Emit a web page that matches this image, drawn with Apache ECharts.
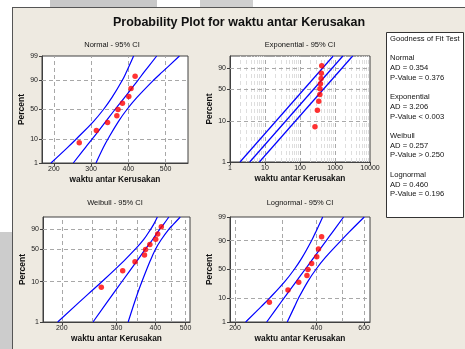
<!DOCTYPE html>
<html><head><meta charset="utf-8">
<script src="https://cdn.jsdelivr.net/npm/echarts@6/dist/echarts.min.js"></script>
<style>html,body{margin:0;padding:0;background:#fff}#c{width:465px;height:349px}</style>
</head><body><div id="c"></div><script>
// ---- data ----
const values = [268, 314, 344, 369, 372, 384, 401, 407, 418];
const plotPercents = [7.4, 18.1, 28.7, 39.4, 50, 60.6, 71.3, 81.9, 92.6];
const bandPercents = [1, 5, 10, 30, 50, 70, 90, 95, 99];
const normalFit   = [252, 285, 303, 339, 364, 390, 426, 443, 476];
const normalLower = [192, 237, 260, 306, 333, 356, 384, 395, 414];
const normalUpper = [313, 333, 345, 373, 396, 423, 468, 492, 537];
const lognormalFit   = [262, 288, 303, 337, 363, 391, 435, 458, 504];
const lognormalLower = [219, 250, 268, 306, 331, 354, 384, 397, 422];
const lognormalUpper = [312, 332, 343, 372, 398, 431, 493, 527, 601];
const weibullFit   = [252, 292, 312, 349, 371, 391, 414, 425, 442];
const weibullLower = [194, 243, 269, 317, 344, 366, 387, 395, 406];
const weibullUpper = [327, 350, 362, 385, 400, 417, 443, 457, 481];
const expPercents = [1, 99];
const expFit   = [3.66, 1676];
const expLower = [1.93, 890];
const expUpper = [6.9, 3200];
const normalTicksX = [200, 300, 400, 500];
const expTicksX = [1, 10, 100, 1000, 10000];
const weibullTicksX = [200, 300, 400, 500];
const lognormalTicksX = [200, 400, 600];
const normalGridX = [200, 300, 400, 500];
const expGridMajorX = [10, 100, 1000];
const expGridMinorX = [2,3,4,5,6,7,8,9,20,30,40,50,60,70,80,90,200,300,400,500,600,700,800,900,2000,3000,4000,5000,6000,7000,8000,9000];
const weibullGridX = [200, 250, 300, 350, 400, 450, 500];
const lognormalGridX = [200, 300, 400, 500, 600];
const percentTicksNormal = [1, 10, 50, 90, 99];
const percentTicksWeibull = [1, 10, 50, 90];
const percentGrid = [10, 50, 90];
const panelTitles = ['Normal - 95% CI', 'Exponential - 95% CI', 'Weibull - 95% CI', 'Lognormal - 95% CI'];
const gofLines = ['Goodness of Fit Test', '', 'Normal', 'AD = 0.354', 'P-Value = 0.376', '',
  'Exponential', 'AD = 3.206', 'P-Value < 0.003', '', 'Weibull', 'AD = 0.257', 'P-Value > 0.250', '',
  'Lognormal', 'AD = 0.460', 'P-Value = 0.196'];

// ---- probability scales ----
function probit(p){
  const a=[-3.969683028665376e+01,2.209460984245205e+02,-2.759285104469687e+02,1.383577518672690e+02,-3.066479806614716e+01,2.506628277459239e+00];
  const b=[-5.447609879822406e+01,1.615858368580409e+02,-1.556989798598866e+02,6.680131188771972e+01,-1.328068155288572e+01];
  const c=[-7.784894002430293e-03,-3.223964580411365e-01,-2.400758277161838e+00,-2.549732539343734e+00,4.374664141464968e+00,2.938163982698783e+00];
  const d=[7.784695709041462e-03,3.224671290700398e-01,2.445134137142996e+00,3.754408661907416e+00];
  const pl=0.02425; let q,r;
  if(p<pl){q=Math.sqrt(-2*Math.log(p));return (((((c[0]*q+c[1])*q+c[2])*q+c[3])*q+c[4])*q+c[5])/((((d[0]*q+d[1])*q+d[2])*q+d[3])*q+1);}
  if(p>1-pl){q=Math.sqrt(-2*Math.log(1-p));return -(((((c[0]*q+c[1])*q+c[2])*q+c[3])*q+c[4])*q+c[5])/((((d[0]*q+d[1])*q+d[2])*q+d[3])*q+1);}
  q=p-0.5;r=q*q;return (((((a[0]*r+a[1])*r+a[2])*r+a[3])*r+a[4])*r+a[5])*q/(((((b[0]*r+b[1])*r+b[2])*r+b[3])*r+b[4])*r+1);
}
function gumbel(p){ return Math.log(-Math.log(1-p)); }
const trans = [probit, gumbel, gumbel, probit];

const FONT = 'Liberation Sans, Arial, sans-serif';
const AX = '#404040';
const BLUE = '#0000ff';

const grids = [
  {left:42, top:56, width:146, height:107},
  {left:230, top:56, width:140, height:106},
  {left:43, top:217, width:147, height:105},
  {left:230, top:217, width:140, height:105}
].map(g => Object.assign(g, {show:true, backgroundColor:'#ffffff', borderColor:AX, borderWidth:1, containLabel:false}));

function xAxis(gi, type, min, max, ticks){
  return {type, gridIndex:gi, min, max, logBase:10,
    axisLine:{show:true, onZero:false, lineStyle:{color:AX}},
    axisTick:{show:true, customValues:ticks, length:3, lineStyle:{color:AX}},
    axisLabel:{customValues:ticks, fontSize:7, color:'#222', margin:3, fontFamily:FONT, formatter: v => String(Math.round(v))},
    splitLine:{show:false}, minorTick:{show:false},
    name:'waktu antar Kerusakan', nameLocation:'middle', nameGap:13,
    nameTextStyle:{fontWeight:'bold', fontSize:8.3, color:'#111', fontFamily:FONT}};
}
function yAxis(gi, tr, ticks){
  const vals = ticks.map(t => tr(t/100));
  return {type:'value', gridIndex:gi, min:tr(0.01), max:tr(0.99),
    axisLine:{show:true, onZero:false, lineStyle:{color:AX}},
    axisTick:{show:true, customValues:vals, length:3, lineStyle:{color:AX}},
    axisLabel:{customValues:vals, fontSize:7, color:'#222', margin:4, fontFamily:FONT,
      formatter: v => { let best=0; vals.forEach((x,i)=>{ if(Math.abs(x-v)<Math.abs(vals[best]-v)) best=i; }); return String(ticks[best]); }},
    splitLine:{show:false},
    name:'Percent', nameLocation:'middle', nameGap:14,
    nameTextStyle:{fontWeight:'bold', fontSize:8.5, color:'#111', fontFamily:FONT}};
}

const xAxes = [
  xAxis(0, 'value', 168, 560, normalTicksX),
  xAxis(1, 'log', 1, 10000, expTicksX),
  xAxis(2, 'log', 174, 517, weibullTicksX),
  xAxis(3, 'log', 191.7, 631, lognormalTicksX)
];
const yAxes = [
  yAxis(0, probit, percentTicksNormal),
  yAxis(1, gumbel, percentTicksWeibull),
  yAxis(2, gumbel, percentTicksWeibull),
  yAxis(3, probit, percentTicksNormal)
];

const series = [];
function gridLines(gi, xsMajor, xsMinor){
  const tr = trans[gi];
  const dash = {type:[4,3], width:1};
  const data = [];
  xsMinor.forEach(x => data.push({xAxis:x, lineStyle:Object.assign({color:'#dedede'}, dash)}));
  xsMajor.forEach(x => data.push({xAxis:x, lineStyle:Object.assign({color:'#a8a8a8'}, dash)}));
  percentGrid.forEach(p => data.push({yAxis:tr(p/100), lineStyle:Object.assign({color:'#a8a8a8'}, dash)}));
  series.push({type:'line', xAxisIndex:gi, yAxisIndex:gi, z:1, silent:true,
    data:[[xAxes[gi].min, tr(0.5)]], symbol:'none', lineStyle:{opacity:0},
    markLine:{silent:true, z:1, symbol:['none','none'], label:{show:false}, animation:false, data}});
}
gridLines(0, normalGridX, []);
gridLines(1, expGridMajorX, expGridMinorX);
gridLines(2, weibullGridX, []);
gridLines(3, lognormalGridX, []);

function curve(gi, xs, ps){
  const tr = trans[gi];
  series.push({type:'line', xAxisIndex:gi, yAxisIndex:gi, z:6, smooth:0.4, symbol:'none', silent:true,
    data: xs.map((x,i) => [x, tr(ps[i]/100)]), lineStyle:{color:BLUE, width:1.2}});
}
[[normalFit, normalLower, normalUpper], null, [weibullFit, weibullLower, weibullUpper], [lognormalFit, lognormalLower, lognormalUpper]]
  .forEach((set, gi) => { if(set) set.forEach(xs => curve(gi, xs, bandPercents)); });
[expFit, expLower, expUpper].forEach(xs => curve(1, xs, expPercents));

for (let gi=0; gi<4; gi++){
  const tr = trans[gi];
  series.push({type:'scatter', xAxisIndex:gi, yAxisIndex:gi, z:7, symbolSize:5.5,
    itemStyle:{color:'#ff0000'}, data: values.map((x,i) => [x, tr(plotPercents[i]/100)])});
}

const txt = (text, x, y, font, align, extra) => Object.assign({type:'text', z:50, silent:true,
  style:{text, x, y, font, fill:'#111', textAlign:align, align:align, textVerticalAlign:'middle', verticalAlign:'middle'}}, extra||{});

const graphic = [
  {type:'rect', z:-100, silent:true, shape:{x:12, y:7, width:453, height:342}, style:{fill:'#eeeae1'}},
  {type:'rect', z:-100, silent:true, shape:{x:50, y:0, width:107, height:7}, style:{fill:'#c8c8c8'}},
  {type:'rect', z:-100, silent:true, shape:{x:200, y:0, width:53, height:7}, style:{fill:'#cfcfcf'}},
  {type:'rect', z:-100, silent:true, shape:{x:0, y:232, width:12, height:117}, style:{fill:'#cccccc'}},
  {type:'line', z:-90, silent:true, shape:{x1:12.5, y1:7, x2:12.5, y2:349}, style:{stroke:'#555', lineWidth:1}},
  {type:'line', z:-90, silent:true, shape:{x1:12, y1:7.5, x2:465, y2:7.5}, style:{stroke:'#555', lineWidth:1}},
  txt('Probability Plot for waktu antar Kerusakan', 239, 23, 'bold 12.5px ' + FONT, 'center'),
  txt(panelTitles[0], 112, 45, '7.5px ' + FONT, 'center'),
  txt(panelTitles[1], 300, 45, '7.5px ' + FONT, 'center'),
  txt(panelTitles[2], 115, 203, '7.5px ' + FONT, 'center'),
  txt(panelTitles[3], 300, 203, '7.5px ' + FONT, 'center'),
  {type:'rect', z:40, silent:true, shape:{x:386.5, y:32.5, width:77, height:185}, style:{fill:'#ffffff', stroke:'#333', lineWidth:1}}
];
gofLines.forEach((line, i) => { if(line) graphic.push(txt(line, 390, 39 + i*9.7, '7.6px ' + FONT, 'left')); });

const chart = echarts.init(document.getElementById('c'), null, {renderer:'canvas'});
chart.setOption({animation:false, backgroundColor:'#ffffff', grid:grids, xAxis:xAxes, yAxis:yAxes, series, graphic});
</script></body></html>
